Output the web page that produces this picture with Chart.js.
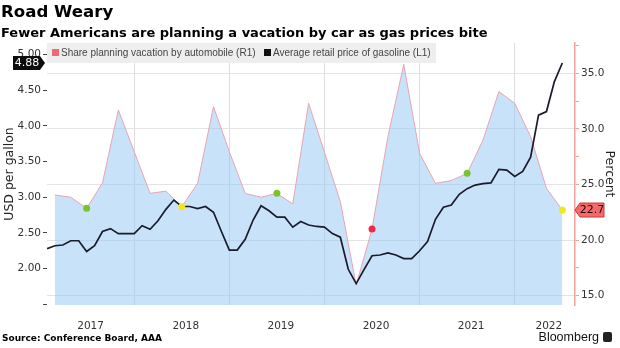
<!DOCTYPE html>
<html>
<head>
<meta charset="utf-8">
<script src="https://cdn.jsdelivr.net/npm/chart.js@4"></script>
<style>
  html, body { margin:0; padding:0; background:#fff; }
  #wrap { position:relative; width:620px; height:348px; overflow:hidden; font-family:"Liberation Sans", Arial, sans-serif; }
  #c { position:absolute; left:0; top:0; }
  .title { position:absolute; left:1px; top:1px; font-family:"DejaVu Sans"; font-weight:bold; font-size:16.6px; line-height:22px; color:#000; }
  .sub { position:absolute; left:1px; top:24px; font-family:"DejaVu Sans"; font-weight:bold; font-size:13px; line-height:18px; color:#000; white-space:nowrap; }
  .legend { position:absolute; left:47px; top:43px; width:389px; height:20px; background:#eeeeee; font-size:10px; line-height:20px; color:#444; white-space:nowrap; }
  .legend span.sw { display:inline-block; width:7px; height:7px; margin:0 2px 0 0; vertical-align:0px; }
  .source { position:absolute; left:2px; top:332px; font-family:"DejaVu Sans"; font-weight:bold; font-size:9px; line-height:12px; color:#000; }
  .bbg { position:absolute; right:8px; top:330px; font-size:12.5px; line-height:14px; color:#111; }
  .bbg i { display:inline-block; width:9px; height:10px; background:#222; border-radius:2px; margin-left:4px; vertical-align:-1px; }
</style>
</head>
<body>
<div id="wrap">
  <canvas id="c" width="620" height="348"></canvas>
  <div class="title">Road Weary</div>
  <div class="sub">Fewer Americans are planning a vacation by car as gas prices bite</div>
  <div class="legend"><span style="margin-left:5px" class="sw" id="sw1"></span>Share planning vacation by automobile (R1) &nbsp;&nbsp;<span class="sw" id="sw2"></span>Average retail price of gasoline (L1)</div>
  <div class="source">Source: Conference Board, AAA</div>
  <div class="bbg">Bloomberg<i></i></div>
</div>
<script>
// ---- Data (months counted from Jan 2017 = 0) ----
const gasMonths = [1,2,3,4,5,6,7,8,9,10,11,12,13,14,15,16,17,18,19,20,21,22,23,24,25,26,27,28,29,30,31,32,33,34,35,36,37,38,39,40,41,42,43,44,45,46,47,48,49,50,51,52,53,54,55,56,57,58,59,60,61,62,63,64,65,66];
const gasPrice = [2.28,2.32,2.33,2.39,2.39,2.24,2.32,2.52,2.56,2.49,2.49,2.49,2.60,2.55,2.67,2.83,2.96,2.87,2.87,2.84,2.87,2.79,2.52,2.26,2.26,2.41,2.68,2.88,2.81,2.72,2.72,2.58,2.66,2.61,2.59,2.58,2.49,2.44,1.99,1.79,1.99,2.18,2.19,2.22,2.19,2.14,2.14,2.25,2.38,2.69,2.86,2.89,3.04,3.12,3.17,3.19,3.20,3.39,3.38,3.29,3.36,3.56,4.15,4.20,4.62,4.88];
const shareMonths = [2,4,6,8,10,12,14,16,18,20,22,24,26,28,30,32,34,36,38,40,42,44,46,48,50,52,54,56,58,60,62,64,66];
const shareVacation = [24.05,23.85,22.85,25.15,31.7,27.95,24.2,24.4,23.0,25.1,32.0,27.95,24.2,23.85,24.2,23.25,32.3,27.9,23.45,15.95,21.0,29.3,35.8,27.8,25.1,25.35,26.0,29.0,33.35,32.3,29.3,24.65,22.7];
const markerMonths = [6,18,30,42,54,66];
const markerColors = ['#7cc22b','#f2e81e','#7cc22b','#f0284a','#7cc22b','#f2e81e'];
const yearLabels = ['2017','2018','2019','2020','2021','2022'];
const yearLabelPos = [6.5,18.5,30.5,42.5,54.5,64.3];
const yearBoundaries = [12,24,36,48,60];
const leftTicks = [1.5,2.0,2.5,3.0,3.5,4.0,4.5,5.0];
const rightTicks = [15,17.5,20,22.5,25,27.5,30,32.5,35,37.5];

const COL_SHARE = '#f06a72';
const COL_GAS = '#1b1b2a';
document.getElementById('sw1').style.background = COL_SHARE;
document.getElementById('sw2').style.background = '#111';

const gasData = gasMonths.map((m,i)=>({x:m, y:gasPrice[i]}));
const shareData = shareMonths.map((m,i)=>({x:m, y:shareVacation[i]}));
const markerData = markerMonths.map(m=>({x:m, y:shareVacation[shareMonths.indexOf(m)]}));

const xTicks = yearLabelPos.map((v,i)=>({v, label:yearLabels[i], grid:false}))
  .concat(yearBoundaries.map(v=>({v, label:'', grid:true})))
  .sort((a,b)=>a.v-b.v);

const tickFont = {family:'DejaVu Sans', size:10.5};

const lastLabels = {
  id:'lastLabels',
  afterDatasetsDraw(chart){
    const ctx = chart.ctx;
    const yL = chart.scales.y, yR = chart.scales.y1;
    const gv = gasPrice[gasPrice.length-1];
    const gy = yL.getPixelForValue(gv);
    ctx.save();
    ctx.fillStyle = '#0d0d0d';
    ctx.beginPath();
    ctx.moveTo(13, gy-7); ctx.lineTo(40, gy-7); ctx.lineTo(45, gy); ctx.lineTo(40, gy+7); ctx.lineTo(13, gy+7); ctx.closePath();
    ctx.fill();
    ctx.fillStyle = '#fff';
    ctx.font = '11px "DejaVu Sans"';
    ctx.textAlign = 'center'; ctx.textBaseline = 'middle';
    ctx.fillText(gv.toFixed(2), 27, gy+0.5);
    const sv = shareVacation[shareVacation.length-1];
    const sy = yR.getPixelForValue(sv);
    const x0 = chart.chartArea.right;
    ctx.fillStyle = '#f26a6a';
    ctx.strokeStyle = '#c83838';
    ctx.lineWidth = 1;
    ctx.beginPath();
    ctx.moveTo(x0, sy); ctx.lineTo(x0+5, sy-7); ctx.lineTo(x0+29, sy-7); ctx.lineTo(x0+29, sy+7); ctx.lineTo(x0+5, sy+7); ctx.closePath();
    ctx.fill(); ctx.stroke();
    ctx.fillStyle = '#2a0000';
    ctx.fillText(sv.toFixed(1), x0+17, sy+0.5);
    ctx.restore();
  }
};

new Chart(document.getElementById('c'), {
  type:'line',
  data:{
    datasets:[
      {
        label:'markers', data:markerData, yAxisID:'y1', xAxisID:'x', showLine:false,
        pointRadius:3.5, pointBackgroundColor:markerColors, pointBorderWidth:0, order:0
      },
      {
        label:'Average retail price of gasoline (L1)', data:gasData, yAxisID:'y', xAxisID:'x',
        borderColor:COL_GAS, borderWidth:1.7, pointRadius:0, fill:false, tension:0, order:1
      },
      {
        label:'Share planning vacation by automobile (R1)', data:shareData, yAxisID:'y1', xAxisID:'x',
        borderColor:'#e8a4b0', borderWidth:1, pointRadius:0, tension:0,
        fill:'start', backgroundColor:'rgba(150,200,246,0.52)', order:2
      }
    ]
  },
  options:{
    responsive:false, animation:false, devicePixelRatio:1,
    layout:{padding:{top:43, left:0, right:0, bottom:0}},
    plugins:{legend:{display:false}, tooltip:{enabled:false}},
    scales:{
      x:{
        type:'linear', position:'bottom', min:1, max:67.6,
        afterBuildTicks:(s)=>{ s.ticks = xTicks.map(t=>({value:t.v})); },
        afterFit:(s)=>{ s.height = 43; },
        ticks:{
          autoSkip:false, maxRotation:0, padding:15, color:'#333', font:tickFont,
          callback:(v)=>{ const t = xTicks.find(t=>Math.abs(t.v-v)<1e-6); return t ? t.label : ''; }
        },
        grid:{
          drawTicks:false,
          color:(c)=>{ if(!c.tick) return 'transparent'; const t = xTicks.find(t=>Math.abs(t.v-c.tick.value)<1e-6); return t && t.grid ? '#dedede' : 'transparent'; }
        },
        border:{display:false}
      },
      y:{
        type:'linear', position:'left', min:1.49, max:5.16,
        afterBuildTicks:(s)=>{ s.ticks = leftTicks.map(v=>({value:v})); },
        afterFit:(s)=>{ s.width = 47; },
        ticks:{ color:'#333', font:tickFont, padding:2, callback:(v)=> v===1.5 ? '' : v.toFixed(2) },
        grid:{ drawOnChartArea:false, tickLength:4, tickColor:'#444' },
        border:{display:false},
        title:{ display:true, text:'USD per gallon', color:'#222', font:{family:'DejaVu Sans', size:12.5}, padding:{top:2,bottom:0} }
      },
      y1:{
        type:'linear', position:'right', min:14.16, max:37.72,
        afterBuildTicks:(s)=>{ s.ticks = rightTicks.map(v=>({value:v})); },
        afterFit:(s)=>{ s.width = 45; },
        ticks:{ color:'#333', font:tickFont, padding:2, callback:(v)=> (Math.abs(v%5)<1e-6) ? v.toFixed(1) : '' },
        grid:{
          tickLength:4, tickColor:'#f4a0a0',
          color:(c)=> (c.tick && Math.abs(c.tick.value%5)<1e-6) ? '#e4e4e4' : 'transparent'
        },
        border:{display:true, color:'#f4a0a0', width:1.5},
        title:{ display:true, text:'Percent', color:'#222', font:{family:'DejaVu Sans', size:12.5}, padding:{top:3,bottom:0} }
      }
    }
  },
  plugins:[lastLabels]
});
</script>
</body>
</html>
